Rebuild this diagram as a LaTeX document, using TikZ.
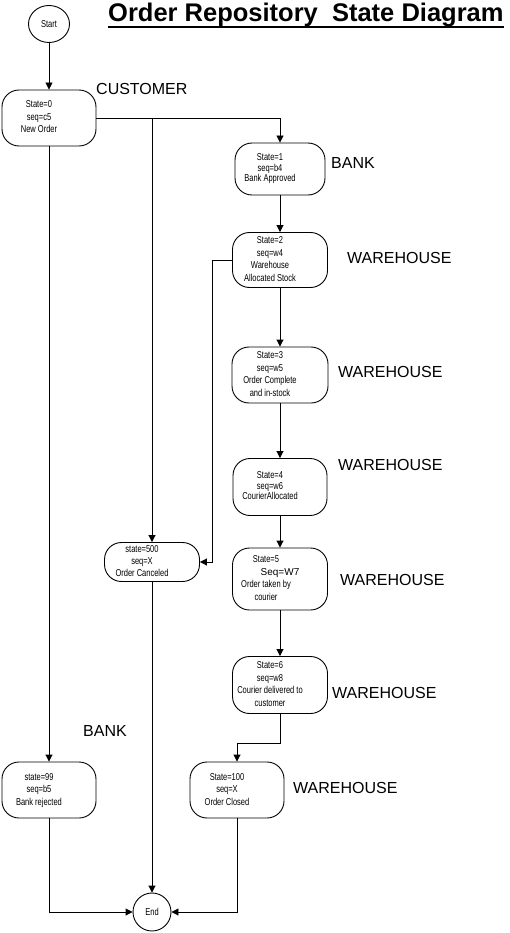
\documentclass[tikz,border=0pt]{standalone}
\usepackage{fontspec}
\setmainfont{Liberation Sans}
\newfontfamily\nf[FakeStretch=0.75]{Liberation Sans}
\usetikzlibrary{arrows.meta,shapes.geometric}
\newcommand\mytab[1]{\begin{tabular}{@{}c@{}}#1\end{tabular}\hspace*{20pt}}
\begin{document}
\begin{tikzpicture}[x=1pt,y=-1pt,
  stbox/.style={draw,line width=0.9pt,rounded corners=17pt,minimum width=94pt,minimum height=56pt,inner sep=0pt,font=\nf\fontsize{10}{12.5}\selectfont},
  termbox/.style={draw,ellipse,line width=0.9pt,inner sep=0pt,font=\nf\fontsize{10}{12}\selectfont},
  lanelabel/.style={anchor=west,inner sep=0pt,font=\fontsize{16}{18}\selectfont},
  arrowline/.style={line width=0.9pt,-{Triangle[length=7pt,width=7pt]}}
]
\fill[white] (0,0) rectangle (509,933);
\useasboundingbox (0,0) rectangle (509,933);

% title
\node[anchor=base west,inner sep=0pt,font=\bfseries\fontsize{25.5}{30}\selectfont] (title) at (108,22) {Order Repository\ \ State Diagram};
\draw[line width=2pt] ([yshift=-5pt]title.base west) -- ([yshift=-5pt]title.base east);

% terminals
\node[termbox,minimum width=41pt,minimum height=37pt] (start) at (49,24) {Start};
\node[termbox,minimum width=38pt,minimum height=38pt] (end) at (152,912) {End};

% states
\node[stbox] (n0) at (49,118) {\mytab{State=0\\seq=c5\\New Order}};
\node[stbox,minimum width=90pt,minimum height=52pt,font=\nf\fontsize{10}{10.5}\selectfont] (n1) at (280,169) {\mytab{State=1\\seq=b4\\Bank Approved}};
\node[stbox,minimum width=95pt,minimum height=55pt] (n2) at (280,260) {\mytab{State=2\\seq=w4\\Warehouse\\Allocated Stock}};
\node[stbox,minimum width=96pt] (n3) at (280,375) {\mytab{State=3\\seq=w5\\Order Complete\\and in-stock}};
\node[stbox,minimum height=57pt,font=\nf\fontsize{10}{10.5}\selectfont] (n4) at (280,487) {\mytab{State=4\\seq=w6\\CourierAllocated}};
\node[stbox,minimum width=95pt,minimum height=62pt] (n5) at (280,579) {\begin{tabular}{@{}c@{}}State=5\\\hspace*{28pt}{\normalfont\fontsize{10}{12}\selectfont Seq=W7}\\Order taken by\\courier\end{tabular}\hspace*{28pt}};
\node[stbox,minimum width=95pt,minimum height=57pt] (n6) at (280,685) {\mytab{State=6\\seq=w8\\Courier delivered to\\customer}};
\node[stbox,minimum width=95pt,minimum height=39pt,font=\nf\fontsize{10}{12}\selectfont] (n500) at (152,562) {\mytab{state=500\\seq=X\\Order Canceled}};
\node[stbox] (n99) at (49,790) {\mytab{state=99\\seq=b5\\Bank rejected}};
\node[stbox] (n100) at (237,790) {\mytab{State=100\\seq=X\\Order Closed}};

% lane labels
\node[lanelabel] (lc) at (96,89) {CUSTOMER};
\node[lanelabel] (lb1) at (331,163) {BANK};
\node[lanelabel] (lw2) at (347,258) {WAREHOUSE};
\node[lanelabel] (lw3) at (338,372) {WAREHOUSE};
\node[lanelabel] (lw4) at (338,465) {WAREHOUSE};
\node[lanelabel] (lw5) at (340,580) {WAREHOUSE};
\node[lanelabel] (lw6) at (332,693) {WAREHOUSE};
\node[lanelabel] (lb99) at (83,731) {BANK};
\node[lanelabel] (lw100) at (293,788) {WAREHOUSE};

% connectors
\coordinate (k2) at (212,260);
\coordinate (k6) at (280,743);
\draw[arrowline] (start.south) -- (n0.north);
\draw[arrowline] (n0.east) -| (n1.north);
\draw[arrowline] (n0.east) -| (n500.north);
\draw[arrowline] (n0.south) -- (n99.north);
\draw[arrowline] (n1.south) -- (n2.north);
\draw[arrowline] (n2.south) -- (n3.north);
\draw[arrowline] (n3.south) -- (n4.north);
\draw[arrowline] (n4.south) -- (n5.north);
\draw[arrowline] (n5.south) -- (n6.north);
\draw[arrowline] (n2.west) -- (k2) |- (n500.east);
\draw[arrowline] (n6.south) -- (k6) -| (n100.north);
\draw[arrowline] (n500.south) -- (end.north);
\draw[arrowline] (n99.south) |- (end.west);
\draw[arrowline] (n100.south) |- (end.east);
\end{tikzpicture}
\end{document}
